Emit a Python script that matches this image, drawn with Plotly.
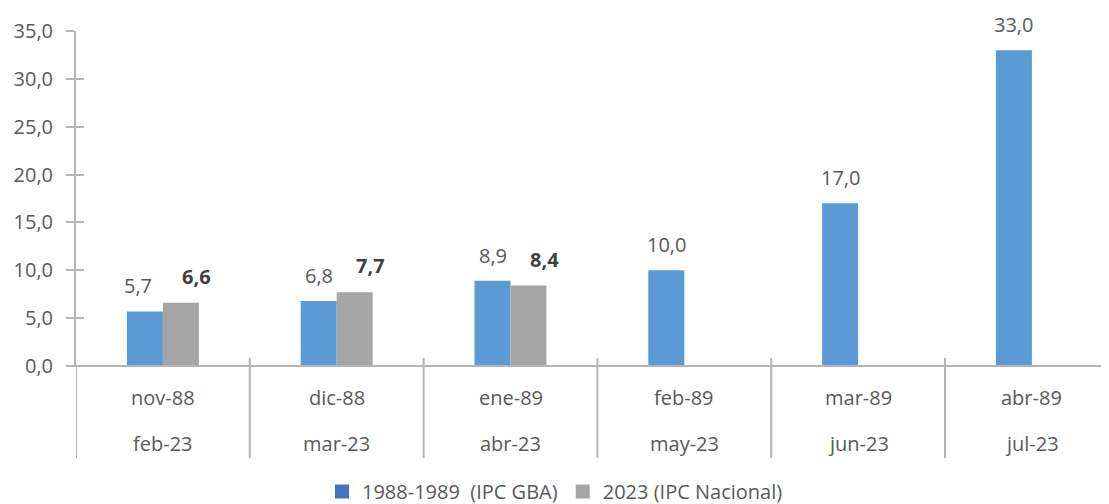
import plotly.graph_objects as go

cat_top = ["nov-88", "dic-88", "ene-89", "feb-89", "mar-89", "abr-89"]
cat_bottom = ["feb-23", "mar-23", "abr-23", "may-23", "jun-23", "jul-23"]
series1_name = "1988-1989  (IPC GBA)"
series2_name = "2023 (IPC Nacional)"
series1 = [5.7, 6.8, 8.9, 10.0, 17.0, 33.0]
series2 = [6.6, 7.7, 8.4, None, None, None]

BLUE = "#5B9BD5"
BLUE_LEG = "#4472C4"
GRAY = "#A5A5A5"
AXIS = "#B4B4B4"
TXT = "#595959"
TXT_B = "#404040"
FONT = "Open Sans"
FS = 20

# label nudges (pixels), as placed in the original
s1_label_dx = [-7, 0, 0, 0, 0, 0]
s2_label_dx = 16

xs = list(range(len(cat_top)))
bw = 0.207
W, H = 1101, 504
L, T, B = 68, 23, 146
PH = H - T - B
PW = W - L
CATW = 173.8

fig = go.Figure()
fig.add_trace(go.Bar(x=xs, y=series1, width=bw, offset=-bw, marker_color=BLUE,
                     marker_line_width=0, showlegend=False, hoverinfo="y"))
fig.add_trace(go.Bar(x=xs, y=series2, width=bw, offset=0, marker_color=GRAY,
                     marker_line_width=0, showlegend=False, hoverinfo="y"))
# legend entries
fig.add_trace(go.Scatter(x=[None], y=[None], mode="markers", name=series1_name,
                         marker=dict(symbol="square", size=14, color=BLUE_LEG)))
fig.add_trace(go.Scatter(x=[None], y=[None], mode="markers", name=series2_name,
                         marker=dict(symbol="square", size=14, color=GRAY)))

ann = []
for i, v in enumerate(series1):
    if v is not None:
        ann.append(dict(x=i - bw / 2, y=v, text=f"{v:.1f}".replace(".", ","), showarrow=False,
                        yanchor="bottom", yshift=10, xshift=s1_label_dx[i],
                        font=dict(family=FONT, size=FS, color=TXT)))
for i, v in enumerate(series2):
    if v is not None:
        ann.append(dict(x=i + bw / 2, y=v, text="<b>" + f"{v:.1f}".replace(".", ",") + "</b>",
                        showarrow=False, yanchor="bottom", yshift=11, xshift=s2_label_dx,
                        font=dict(family=FONT, size=FS, color=TXT_B)))
for i, (a, b) in enumerate(zip(cat_top, cat_bottom)):
    ann.append(dict(x=i, y=-31 / PH, yref="paper", text=a, showarrow=False, yanchor="middle",
                    font=dict(family=FONT, size=FS, color=TXT)))
    ann.append(dict(x=i, y=-77 / PH, yref="paper", text=b, showarrow=False, yanchor="middle",
                    font=dict(family=FONT, size=FS, color=TXT)))

shapes = []
for i in range(len(cat_top) + 1):
    shapes.append(dict(type="line", xref="x", yref="paper", x0=i - 0.5, x1=i - 0.5,
                       y0=8 / PH if i > 0 else 0, y1=-92 / PH, line=dict(color=AXIS, width=2)))
shapes.append(dict(type="line", xref="paper", yref="paper", x0=-8 / PW, x1=1, y0=0, y1=0,
                   line=dict(color=AXIS, width=2)))

fig.update_layout(
    width=W, height=H,
    margin=dict(l=L, r=0, t=T, b=B, pad=0),
    paper_bgcolor="white", plot_bgcolor="white",
    barmode="overlay",
    separators=",.",
    annotations=ann, shapes=shapes,
    legend=dict(orientation="h", x=(555 - 76) / PW, xanchor="center", y=-145 / PH, yanchor="bottom",
                font=dict(family=FONT, size=FS, color=TXT), itemsizing="trace", itemwidth=30,
                bgcolor="rgba(0,0,0,0)", borderwidth=0),
    xaxis=dict(range=[-0.5, -0.5 + PW / CATW], showticklabels=False, showgrid=False,
               zeroline=False, showline=False, ticks=""),
    yaxis=dict(range=[0, 35], dtick=5, tickformat=".1f", showgrid=False, zeroline=False,
               showline=True, linecolor=AXIS, linewidth=2, ticks="outside", ticklen=8,
               tickcolor=AXIS, tickwidth=2, ticklabelstandoff=9,
               tickfont=dict(family=FONT, size=FS, color=TXT)),
    yaxis2=dict(range=[0, 35], dtick=5, overlaying="y", side="left", showgrid=False,
                zeroline=False, showline=False, ticks="inside", ticklen=8, tickcolor=AXIS,
                tickwidth=2, showticklabels=False),
)
# invisible trace to activate yaxis2
fig.add_trace(go.Scatter(x=[None], y=[None], yaxis="y2", showlegend=False, hoverinfo="skip"))

fig.write_html("out.html")
